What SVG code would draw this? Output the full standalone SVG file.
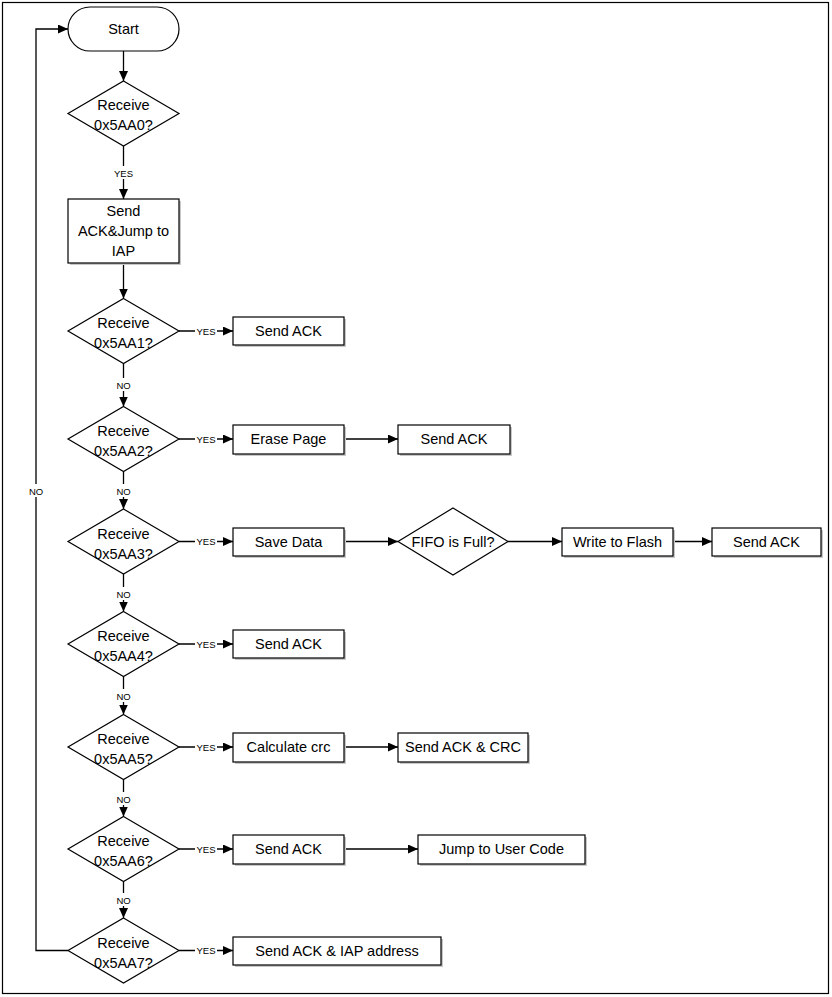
<svg xmlns="http://www.w3.org/2000/svg" width="832" height="997" viewBox="0 0 832 997">
<defs>
<marker id="ah" markerUnits="userSpaceOnUse" markerWidth="11" markerHeight="10" refX="10" refY="4.5" orient="auto"><path d="M0,0 L10,4.5 L0,9 z" fill="#000"/></marker>
<style>
.sh{fill:#c8c8c8;stroke:none}
.bx{fill:#fff;stroke:#000;stroke-width:1.2}
.t{font-family:"Liberation Sans",Arial,sans-serif;font-size:14.5px;fill:#000;text-anchor:middle}
.s{font-family:"Liberation Sans",Arial,sans-serif;font-size:9.5px;fill:#000;text-anchor:middle}
.ln{fill:none;stroke:#000;stroke-width:1.3}
.ar{fill:none;stroke:#000;stroke-width:1.3;marker-end:url(#ah)}
.bg{fill:#fff;stroke:none}
</style>
</defs>
<rect x="0" y="0" width="832" height="997" fill="#fff"/>
<rect x="2.5" y="2.5" width="826" height="991" fill="none" stroke="#000" stroke-width="1.2"/>

<g id="connectors">
<path class="ar" d="M123.5,51 V81"/>
<path class="ar" d="M123.5,146 V199"/>
<path class="ar" d="M123.5,263 V298.5"/>
<path class="ar" d="M123.5,363.5 V406.5"/>
<path class="ar" d="M123.5,471.5 V509"/>
<path class="ar" d="M123.5,574 V611.5"/>
<path class="ar" d="M123.5,676.5 V714.5"/>
<path class="ar" d="M123.5,779.5 V816.5"/>
<path class="ar" d="M123.5,881.5 V918"/>
<path class="ar" d="M68,950.5 H36 V29 H68"/>
<path class="ar" d="M179,331 H233"/>
<path class="ar" d="M179,439 H233"/>
<path class="ar" d="M344,439 H398"/>
<path class="ar" d="M179,541.5 H233"/>
<path class="ar" d="M344,541.5 H398"/>
<path class="ar" d="M508,541.5 H562"/>
<path class="ar" d="M673,541.5 H712"/>
<path class="ar" d="M179,644 H233"/>
<path class="ar" d="M179,747 H233"/>
<path class="ar" d="M344,747 H398"/>
<path class="ar" d="M179,849 H233"/>
<path class="ar" d="M344,849 H418"/>
<path class="ar" d="M179,950.5 H233"/>
<rect class="bg" x="113" y="166" width="21" height="13"/><text class="s" x="123.5" y="176.5">YES</text>
<rect class="bg" x="115" y="378" width="17" height="13"/><text class="s" x="123.5" y="388.5">NO</text>
<rect class="bg" x="115" y="484" width="17" height="13"/><text class="s" x="123.5" y="494.5">NO</text>
<rect class="bg" x="115" y="587" width="17" height="13"/><text class="s" x="123.5" y="597.5">NO</text>
<rect class="bg" x="115" y="689" width="17" height="13"/><text class="s" x="123.5" y="699.5">NO</text>
<rect class="bg" x="115" y="792" width="17" height="13"/><text class="s" x="123.5" y="802.5">NO</text>
<rect class="bg" x="115" y="893" width="17" height="13"/><text class="s" x="123.5" y="903.5">NO</text>
<rect class="bg" x="27" y="484" width="18" height="13"/><text class="s" x="36" y="494.5">NO</text>
<rect class="bg" x="195" y="325" width="22" height="12"/><text class="s" x="206" y="334.5">YES</text>
<rect class="bg" x="195" y="433" width="22" height="12"/><text class="s" x="206" y="442.5">YES</text>
<rect class="bg" x="195" y="535.5" width="22" height="12"/><text class="s" x="206" y="545">YES</text>
<rect class="bg" x="195" y="638" width="22" height="12"/><text class="s" x="206" y="647.5">YES</text>
<rect class="bg" x="195" y="741" width="22" height="12"/><text class="s" x="206" y="750.5">YES</text>
<rect class="bg" x="195" y="843" width="22" height="12"/><text class="s" x="206" y="852.5">YES</text>
<rect class="bg" x="195" y="944.5" width="22" height="12"/><text class="s" x="206" y="954">YES</text>
</g>

<g id="start"><rect class="bx" x="68" y="7" width="111" height="44" rx="22"/><text class="t" x="123.5" y="34">Start</text></g>

<g id="d0"><polygon class="bx" points="123.5,81 179,113.5 123.5,146 68,113.5"/><text class="t" x="123.5" y="110">Receive</text><text class="t" x="123.5" y="130">0x5AA0?</text></g>

<g id="jump_iap"><rect class="sh" x="70" y="201" width="111" height="64"/><rect class="bx" x="68" y="199" width="111" height="64"/><text class="t" x="123.5" y="216">Send</text><text class="t" x="123.5" y="236">ACK&amp;Jump to</text><text class="t" x="123.5" y="256">IAP</text></g>

<g id="d1"><polygon class="bx" points="123.5,298.5 179,331 123.5,363.5 68,331"/><text class="t" x="123.5" y="328">Receive</text><text class="t" x="123.5" y="348">0x5AA1?</text></g>
<g id="b1"><rect class="sh" x="235" y="319" width="111" height="28"/><rect class="bx" x="233" y="317" width="111" height="28"/><text class="t" x="288.5" y="336">Send ACK</text></g>

<g id="d2"><polygon class="bx" points="123.5,406.5 179,439 123.5,471.5 68,439"/><text class="t" x="123.5" y="436">Receive</text><text class="t" x="123.5" y="456">0x5AA2?</text></g>
<g id="b2a"><rect class="sh" x="235" y="427" width="111" height="29"/><rect class="bx" x="233" y="425" width="111" height="29"/><text class="t" x="288.5" y="444">Erase Page</text></g>
<g id="b2b"><rect class="sh" x="400" y="427" width="112" height="29"/><rect class="bx" x="398" y="425" width="112" height="29"/><text class="t" x="454" y="444">Send ACK</text></g>

<g id="d3"><polygon class="bx" points="123.5,509 179,541.5 123.5,574 68,541.5"/><text class="t" x="123.5" y="538.5">Receive</text><text class="t" x="123.5" y="558.5">0x5AA3?</text></g>
<g id="b3a"><rect class="sh" x="235" y="530" width="111" height="28"/><rect class="bx" x="233" y="528" width="111" height="28"/><text class="t" x="288.5" y="547">Save Data</text></g>
<g id="fifo"><polygon class="bx" points="453,508 508,541.5 453,575 398,541.5"/><text class="t" x="453" y="546.5">FIFO is Full?</text></g>
<g id="b3b"><rect class="sh" x="564" y="530" width="111" height="28"/><rect class="bx" x="562" y="528" width="111" height="28"/><text class="t" x="617.5" y="547">Write to Flash</text></g>
<g id="b3c"><rect class="sh" x="714" y="530" width="109" height="28"/><rect class="bx" x="712" y="528" width="109" height="28"/><text class="t" x="766.5" y="547">Send ACK</text></g>

<g id="d4"><polygon class="bx" points="123.5,611.5 179,644 123.5,676.5 68,644"/><text class="t" x="123.5" y="641">Receive</text><text class="t" x="123.5" y="661">0x5AA4?</text></g>
<g id="b4"><rect class="sh" x="235" y="632" width="111" height="28"/><rect class="bx" x="233" y="630" width="111" height="28"/><text class="t" x="288.5" y="649">Send ACK</text></g>

<g id="d5"><polygon class="bx" points="123.5,714.5 179,747 123.5,779.5 68,747"/><text class="t" x="123.5" y="744">Receive</text><text class="t" x="123.5" y="764">0x5AA5?</text></g>
<g id="b5a"><rect class="sh" x="235" y="735" width="111" height="29"/><rect class="bx" x="233" y="733" width="111" height="29"/><text class="t" x="288.5" y="752">Calculate crc</text></g>
<g id="b5b"><rect class="sh" x="400" y="735" width="130" height="29"/><rect class="bx" x="398" y="733" width="130" height="29"/><text class="t" x="463" y="752">Send ACK &amp; CRC</text></g>

<g id="d6"><polygon class="bx" points="123.5,816.5 179,849 123.5,881.5 68,849"/><text class="t" x="123.5" y="846">Receive</text><text class="t" x="123.5" y="866">0x5AA6?</text></g>
<g id="b6a"><rect class="sh" x="235" y="837" width="111" height="29"/><rect class="bx" x="233" y="835" width="111" height="29"/><text class="t" x="288.5" y="854">Send ACK</text></g>
<g id="b6b"><rect class="sh" x="420" y="837" width="167" height="29"/><rect class="bx" x="418" y="835" width="167" height="29"/><text class="t" x="501.5" y="854">Jump to User Code</text></g>

<g id="d7"><polygon class="bx" points="123.5,918 179,950.5 123.5,983 68,950.5"/><text class="t" x="123.5" y="947.5">Receive</text><text class="t" x="123.5" y="967.5">0x5AA7?</text></g>
<g id="b7"><rect class="sh" x="235" y="939" width="208" height="28"/><rect class="bx" x="233" y="937" width="208" height="28"/><text class="t" x="337" y="956">Send ACK &amp; IAP address</text></g>
</svg>
